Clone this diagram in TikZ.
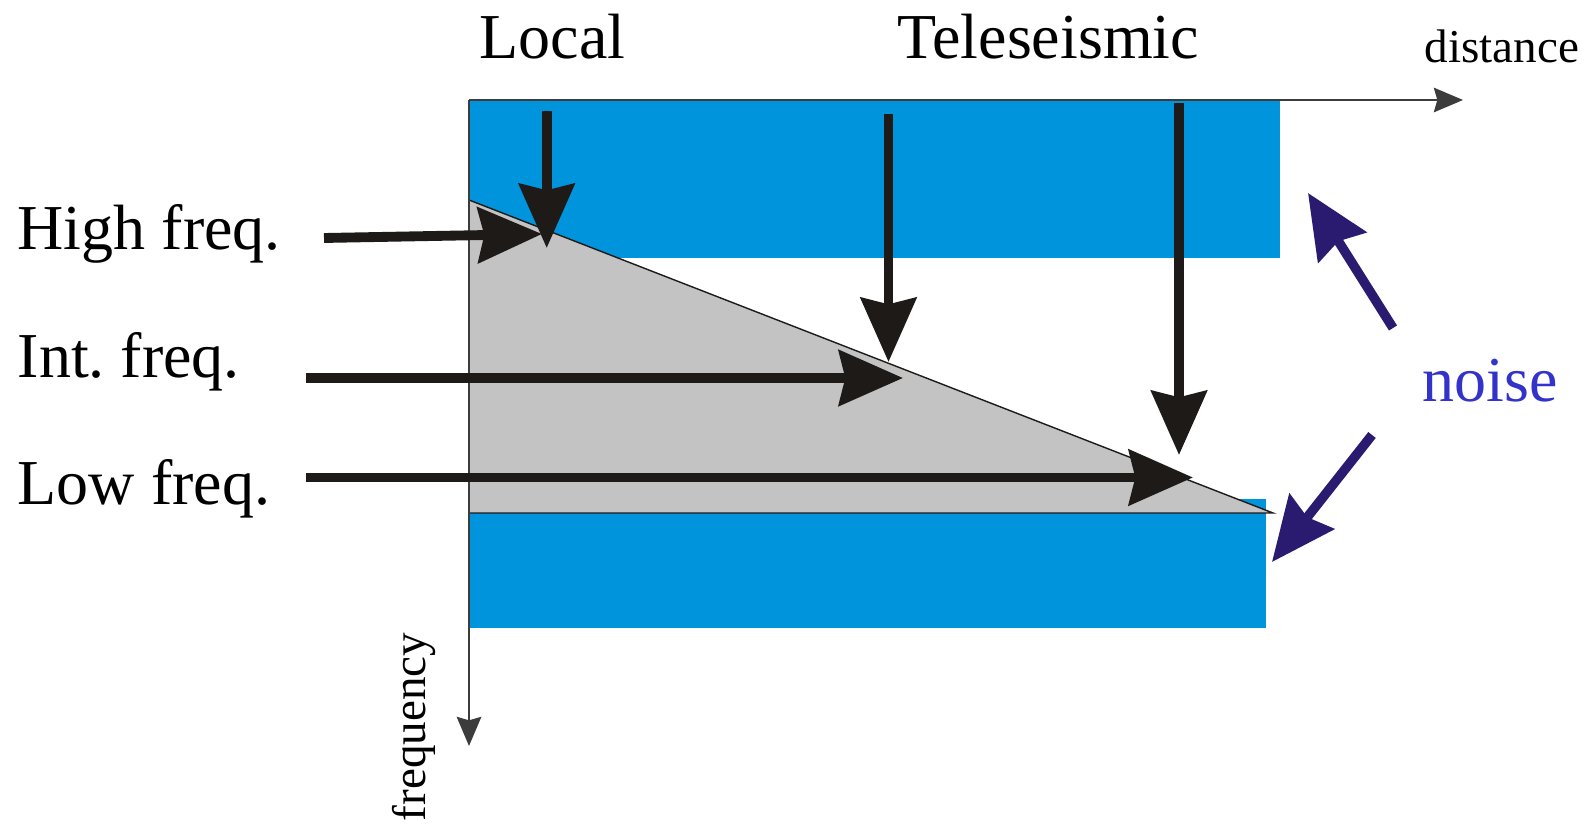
\documentclass[tikz,border=0pt]{standalone}
\usepackage{fontspec}
\setmainfont{Liberation Serif}
\usetikzlibrary{arrows.meta}
\frenchspacing
\definecolor{bandblue}{RGB}{0,148,221}
\definecolor{trigray}{RGB}{195,195,195}
\definecolor{arrowblack}{RGB}{30,26,24}
\definecolor{noisenavy}{RGB}{42,26,112}
\definecolor{noiseblue}{RGB}{51,51,204}
\definecolor{axisgray}{RGB}{60,60,60}
\tikzset{
  bigarrow/.style={line width=2.8pt, draw=arrowblack, fill=arrowblack,
    -{Stealth[length=18.2pt, width=15.7pt, inset=1.8pt]}},
  noisearrow/.style={line width=2.7pt, draw=noisenavy, fill=noisenavy,
    -{Stealth[length=18.2pt, width=16pt, inset=2pt]}},
  axisline/.style={line width=0.45pt, draw=axisgray,
    -{Stealth[length=8.3pt, width=7pt, inset=1pt]}},
  biglabel/.style={inner sep=0pt, anchor=base west, font=\fontsize{18.2pt}{20pt}\selectfont},
  smalllabel/.style={inner sep=0pt, anchor=base west, font=\fontsize{13.4pt}{15pt}\selectfont},
}
\begin{document}
\begin{tikzpicture}[x=0.01cm, y=-0.01cm]
\useasboundingbox (0,0) rectangle (1588,825);
% bands
\fill[bandblue] (469,100) rectangle (1280,257.7);
\fill[bandblue] (469,499) rectangle (1266,628);
% triangle
\filldraw[fill=trigray, draw=arrowblack, line width=0.4pt] (469,200) -- (1273,513) -- (469,513) -- cycle;
% axes
\coordinate (O) at (469,100);
\coordinate (xend) at (1463,100);
\coordinate (yend) at (469,746);
\draw[axisline] (O) -- (xend);
\draw[axisline] (O) -- (yend);
% labels
\node[biglabel] (local) at (479,59) {Local};
\node[biglabel] (tele) at (897,59) {Teleseismic};
\node[smalllabel] (dist) at (1424,63) {distance};
\node[smalllabel, rotate=90] (freq) at (425,822) {frequency};
\node[biglabel] (high) at (17,250) {High freq.};
\node[biglabel] (int) at (17,378) {Int. freq.};
\node[biglabel] (low) at (17,505) {Low freq.};
\node[biglabel, text=noiseblue] (noise) at (1422,402) {noise};
% vertical arrows
\coordinate (v1s) at (546.7,111);  \coordinate (v1e) at (546.7,248);
\coordinate (v2s) at (888.5,114);  \coordinate (v2e) at (888.5,362);
\coordinate (v3s) at (1179,103);   \coordinate (v3e) at (1179,455);
\draw[bigarrow] (v1s) -- (v1e);
\draw[bigarrow] (v2s) -- (v2e);
\draw[bigarrow] (v3s) -- (v3e);
% horizontal arrows
\coordinate (h1s) at (324,238);    \coordinate (h1e) at (542,234);
\coordinate (h2s) at (306,378);    \coordinate (h2e) at (903,378);
\coordinate (h3s) at (306,477.5);  \coordinate (h3e) at (1193,477.5);
\draw[bigarrow] (h1s) -- (h1e);
\draw[bigarrow] (h2s) -- (h2e);
\draw[bigarrow] (h3s) -- (h3e);
% noise arrows
\coordinate (n1s) at (1393,328);   \coordinate (n1e) at (1308,193);
\coordinate (n2s) at (1372,435);   \coordinate (n2e) at (1272,562);
\draw[noisearrow] (n1s) -- (n1e);
\draw[noisearrow] (n2s) -- (n2e);
\end{tikzpicture}
\end{document}
